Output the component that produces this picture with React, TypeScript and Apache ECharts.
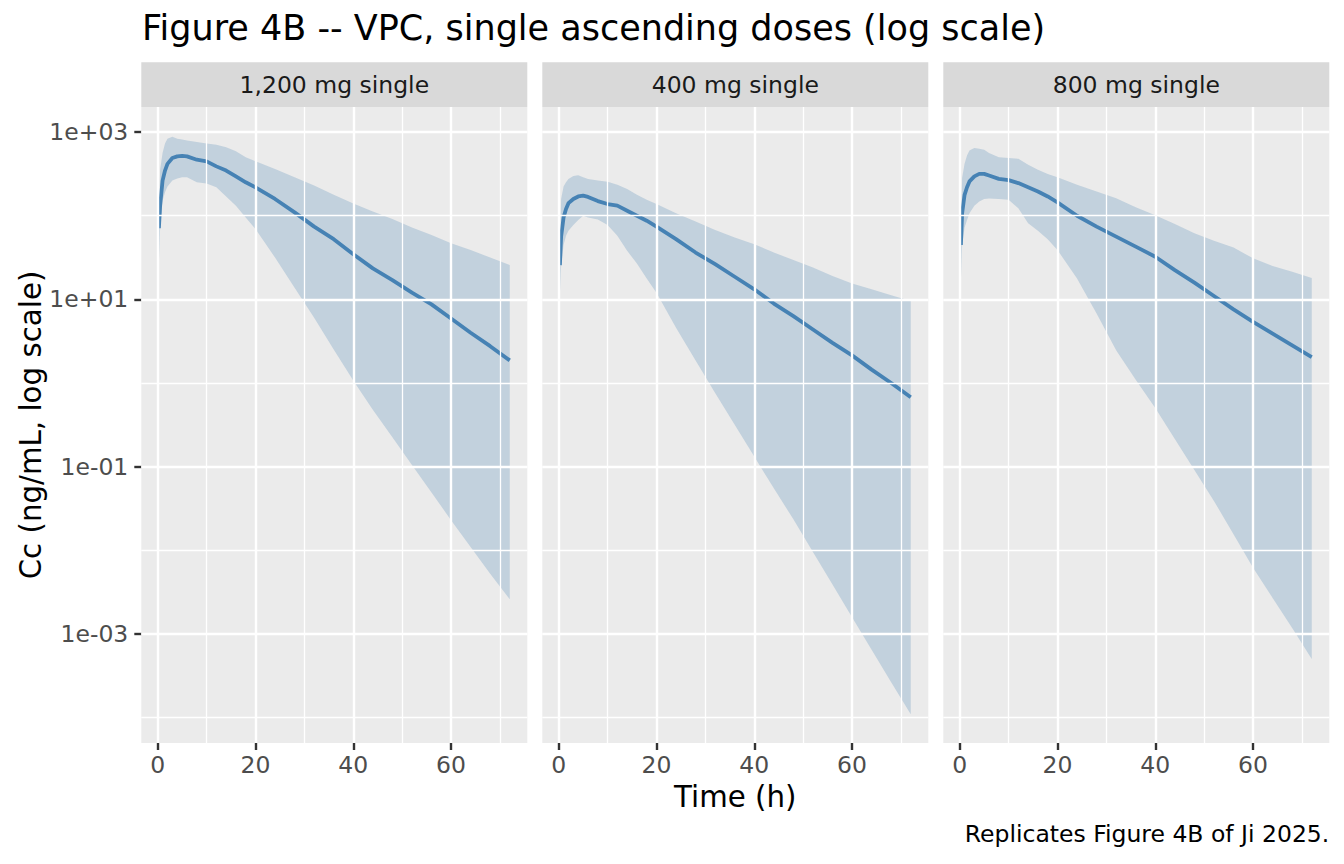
import React, { useEffect, useRef } from "react";
import * as echarts from "echarts";

// Time after dose (h)
const TIME_H = [0.25, 0.5, 1, 1.5, 2, 3, 4, 5, 6, 8, 10, 12, 14, 16, 18, 20, 24, 28, 32, 36, 40, 44, 48, 52, 56, 60, 64, 68, 72];

// Panel (facet) labels
const PANELS = ["1,200 mg single", "400 mg single", "800 mg single"];

// log10 of Cc (ng/mL)
const LOG10_MEDIAN_1200 = [1.85, 2.12, 2.42, 2.54, 2.62, 2.69, 2.71, 2.715, 2.71, 2.67, 2.65, 2.59, 2.54, 2.47, 2.40, 2.34, 2.20, 2.04, 1.87, 1.72, 1.54, 1.37, 1.23, 1.08, 0.94, 0.77, 0.60, 0.44, 0.27];
const LOG10_UPPER_1200 = [1.95, 2.55, 2.75, 2.865, 2.92, 2.945, 2.92, 2.91, 2.90, 2.88, 2.865, 2.85, 2.82, 2.77, 2.70, 2.65, 2.56, 2.46, 2.36, 2.25, 2.145, 2.05, 1.96, 1.86, 1.77, 1.67, 1.59, 1.50, 1.41];
const LOG10_LOWER_1200 = [1.45, 1.85, 2.18, 2.28, 2.35, 2.42, 2.445, 2.46, 2.46, 2.40, 2.385, 2.34, 2.23, 2.12, 1.98, 1.84, 1.50, 1.14, 0.78, 0.40, 0.03, -0.32, -0.65, -0.98, -1.31, -1.64, -1.96, -2.28, -2.585];

const LOG10_MEDIAN_400 = [1.41, 1.75, 1.98, 2.08, 2.15, 2.20, 2.23, 2.24, 2.225, 2.175, 2.14, 2.12, 2.06, 2.00, 1.94, 1.87, 1.72, 1.56, 1.42, 1.27, 1.12, 0.95, 0.80, 0.64, 0.48, 0.33, 0.16, 0.00, -0.17];
const LOG10_UPPER_400 = [1.5, 2.2, 2.35, 2.40, 2.44, 2.475, 2.485, 2.46, 2.44, 2.42, 2.405, 2.37, 2.32, 2.25, 2.19, 2.14, 2.03, 1.93, 1.83, 1.74, 1.66, 1.56, 1.47, 1.38, 1.28, 1.19, 1.12, 1.05, 0.98];
const LOG10_LOWER_400 = [1.07, 1.40, 1.65, 1.76, 1.82, 1.89, 1.95, 2.0, 1.98, 1.955, 1.89, 1.76, 1.58, 1.43, 1.25, 1.08, 0.66, 0.27, -0.12, -0.50, -0.88, -1.26, -1.63, -2.02, -2.41, -2.80, -3.19, -3.58, -3.96];

const LOG10_MEDIAN_800 = [1.65, 2.03, 2.25, 2.34, 2.41, 2.47, 2.50, 2.50, 2.48, 2.44, 2.425, 2.39, 2.34, 2.29, 2.23, 2.16, 2.00, 1.87, 1.75, 1.63, 1.51, 1.35, 1.20, 1.04, 0.88, 0.73, 0.59, 0.45, 0.31];
const LOG10_UPPER_800 = [1.8, 2.45, 2.62, 2.72, 2.78, 2.81, 2.80, 2.79, 2.75, 2.70, 2.69, 2.68, 2.61, 2.55, 2.50, 2.46, 2.37, 2.29, 2.21, 2.10, 2.005, 1.90, 1.79, 1.70, 1.62, 1.49, 1.40, 1.33, 1.255];
const LOG10_LOWER_800 = [1.23, 1.65, 1.86, 1.95, 2.03, 2.12, 2.17, 2.20, 2.205, 2.20, 2.19, 2.09, 1.91, 1.82, 1.72, 1.59, 1.25, 0.83, 0.39, 0.04, -0.30, -0.67, -1.04, -1.41, -1.81, -2.21, -2.57, -2.93, -3.30];

// Axis breaks
const X_MAJOR = [0, 20, 40, 60];
const X_MINOR = [10, 30, 50, 70];
const Y_MAJOR = [-3, -1, 1, 3];
const Y_MINOR = [-4, -2, 0, 2];

const TITLE = "Figure 4B -- VPC, single ascending doses (log scale)";
const Y_TITLE = "Cc (ng/mL, log scale)";
const X_TITLE = "Time (h)";
const CAPTION = "Replicates Figure 4B of Ji 2025.";

const FONT = "DejaVu Sans";

function fmtLog(v: number): string {
  const e = Math.round(v);
  return "1e" + (e < 0 ? "-" : "+") + String(Math.abs(e)).padStart(2, "0");
}

export default function App() {
  const ref = useRef<HTMLDivElement>(null);

  useEffect(() => {
    if (!ref.current) return;
    const chart = echarts.init(ref.current, null, { renderer: "svg" });

    const medians = [LOG10_MEDIAN_1200, LOG10_MEDIAN_400, LOG10_MEDIAN_800];
    const uppers = [LOG10_UPPER_1200, LOG10_UPPER_400, LOG10_UPPER_800];
    const lowers = [LOG10_LOWER_1200, LOG10_LOWER_400, LOG10_LOWER_800];

    const panelLefts = [141.3, 542.3, 943.3];
    const panelW = 386;
    const panelTop = 107;
    const panelH = 636;
    const xMin = -3.35;
    const xMax = 75.59;
    const yMin = -4.305;
    const yMax = 3.3;

    const grids = panelLefts.map((left) => ({
      left,
      top: panelTop,
      width: panelW,
      height: panelH,
      show: true,
      backgroundColor: "#EBEBEB",
      borderWidth: 0,
      containLabel: false,
    }));

    const xAxes = panelLefts.map((_, i) => ({
      type: "value",
      gridIndex: i,
      position: "bottom",
      min: xMin,
      max: xMax,
      axisLine: { show: false, onZero: false },
      splitLine: { show: false },
      minorTick: { show: false },
      axisTick: {
        show: true,
        customValues: X_MAJOR,
        length: 7,
        lineStyle: { color: "#333333", width: 2.4 },
      },
      axisLabel: {
        show: true,
        customValues: X_MAJOR,
        fontSize: 23.5,
        fontFamily: FONT,
        color: "#4D4D4D",
        margin: 10,
        formatter: (v: number) => String(v),
      },
    }));

    const yAxes = panelLefts.map((_, i) => ({
      type: "value",
      gridIndex: i,
      position: "left",
      min: yMin,
      max: yMax,
      axisLine: { show: false, onZero: false },
      splitLine: { show: false },
      minorTick: { show: false },
      axisTick: {
        show: i === 0,
        customValues: Y_MAJOR,
        length: 7,
        lineStyle: { color: "#333333", width: 2.4 },
      },
      axisLabel: {
        show: i === 0,
        customValues: Y_MAJOR,
        fontSize: 23.5,
        fontFamily: FONT,
        color: "#4D4D4D",
        margin: 13,
        formatter: (v: number) => fmtLog(v),
      },
    }));

    const gridLine = (w: number) => ({ color: "#FFFFFF", type: "solid", width: w, opacity: 1 });

    const series: any[] = [];
    panelLefts.forEach((_, i) => {
      // panel grid lines (carrier series has no visible data)
      series.push({
        type: "line",
        xAxisIndex: i,
        yAxisIndex: i,
        data: [],
        symbol: "none",
        showSymbol: false,
        lineStyle: { opacity: 0 },
        silent: true,
        z: 1,
        markLine: {
          silent: true,
          symbol: ["none", "none"],
          label: { show: false },
          animation: false,
          lineStyle: gridLine(2.4),
          emphasis: { disabled: true },
          data: [
            ...X_MINOR.map((v) => ({ xAxis: v, lineStyle: gridLine(1.3) })),
            ...Y_MINOR.map((v) => ({ yAxis: v, lineStyle: gridLine(1.3) })),
            ...X_MAJOR.map((v) => ({ xAxis: v, lineStyle: gridLine(2.4) })),
            ...Y_MAJOR.map((v) => ({ yAxis: v, lineStyle: gridLine(2.4) })),
          ],
        },
      });

      const lo = lowers[i];
      const hi = uppers[i];
      // ribbon
      series.push({
        type: "custom",
        xAxisIndex: i,
        yAxisIndex: i,
        z: 2,
        silent: true,
        encode: { x: 0, y: [1, 2] },
        data: TIME_H.map((t, k) => [t, lo[k], hi[k]]),
        renderItem: (params: any, api: any) => {
          if (params.dataIndex !== 0) return { type: "group", children: [] };
          const pts: number[][] = [];
          for (let k = 0; k < TIME_H.length; k++) pts.push(api.coord([TIME_H[k], hi[k]]));
          for (let k = TIME_H.length - 1; k >= 0; k--) pts.push(api.coord([TIME_H[k], lo[k]]));
          return {
            type: "polygon",
            shape: { points: pts },
            style: { fill: "rgba(70,130,180,0.25)", stroke: "none" },
          };
        },
      });

      // median line
      series.push({
        type: "line",
        xAxisIndex: i,
        yAxisIndex: i,
        z: 3,
        data: TIME_H.map((t, k) => [t, medians[i][k]]),
        symbol: "none",
        showSymbol: false,
        lineStyle: { color: "#4682B4", width: 3.8, cap: "butt", join: "round" },
        silent: true,
      });
    });

    const graphic: any[] = [
      {
        type: "text",
        x: 142,
        y: 28,
        style: { text: TITLE, fontSize: 35, fontFamily: FONT, fill: "#000000", align: "left", verticalAlign: "middle" },
      },
      {
        type: "text",
        x: 31,
        y: panelTop + panelH / 2,
        rotation: Math.PI / 2,
        style: { text: Y_TITLE, fontSize: 29.3, fontFamily: FONT, fill: "#000000", align: "center", verticalAlign: "middle" },
      },
      {
        type: "text",
        x: panelLefts[0] + (panelLefts[2] + panelW - panelLefts[0]) / 2,
        y: 797,
        style: { text: X_TITLE, fontSize: 29.3, fontFamily: FONT, fill: "#000000", align: "center", verticalAlign: "middle" },
      },
      {
        type: "text",
        x: panelLefts[2] + panelW,
        y: 834,
        style: { text: CAPTION, fontSize: 23.5, fontFamily: FONT, fill: "#000000", align: "right", verticalAlign: "middle" },
      },
    ];
    panelLefts.forEach((left, i) => {
      graphic.push({
        type: "rect",
        shape: { x: left, y: 62.3, width: panelW, height: panelTop - 62.3 },
        style: { fill: "#D9D9D9" },
        silent: true,
      });
      graphic.push({
        type: "text",
        x: left + panelW / 2,
        y: 84.5,
        style: { text: PANELS[i], fontSize: 23.5, fontFamily: FONT, fill: "#1A1A1A", align: "center", verticalAlign: "middle" },
      });
    });

    chart.setOption({
      animation: false,
      backgroundColor: "#FFFFFF",
      textStyle: { fontFamily: FONT },
      grid: grids,
      xAxis: xAxes,
      yAxis: yAxes,
      series,
      graphic,
    });

    return () => chart.dispose();
  }, []);

  return (
    <div
      ref={ref}
      style={{ position: "fixed", left: 0, top: 0, width: 1344, height: 864, background: "#FFFFFF" }}
    />
  );
}
